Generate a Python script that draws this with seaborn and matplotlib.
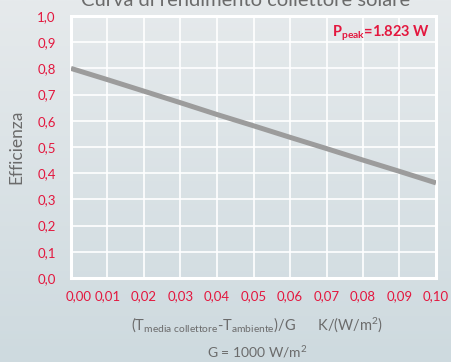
import numpy as np
import pandas as pd
import seaborn as sns
import matplotlib.pyplot as plt
from matplotlib.transforms import ScaledTranslation

# values
delta_t_over_g = [0.00, 0.01, 0.02, 0.03, 0.04, 0.05, 0.06, 0.07, 0.08, 0.09, 0.10]
efficienza = [0.800, 0.757, 0.713, 0.669, 0.624, 0.581, 0.537, 0.494, 0.450, 0.407, 0.363]
x_ticks = [0.00, 0.01, 0.02, 0.03, 0.04, 0.05, 0.06, 0.07, 0.08, 0.09, 0.10]
y_ticks = [0.0, 0.1, 0.2, 0.3, 0.4, 0.5, 0.6, 0.7, 0.8, 0.9, 1.0]
p_peak = "1.823 W"

RED = "#e3173e"
GRAY_TXT = "#6b6b6b"
LINE = "#9c9c9c"

sns.set_style("white")
plt.rcParams["font.family"] = ["Lato", "DejaVu Sans"]
plt.rcParams["mathtext.fontset"] = "custom"
plt.rcParams["mathtext.rm"] = "Lato"
plt.rcParams["mathtext.it"] = "Lato"
plt.rcParams["mathtext.bf"] = "Lato:bold"

df = pd.DataFrame({"x": delta_t_over_g, "eff": efficienza})

fig = plt.figure(figsize=(4.52, 3.62), dpi=100)

# background gradient
bg = fig.add_axes([0, 0, 1, 1], zorder=-10)
top = np.array([230, 234, 236]) / 255
bot = np.array([206, 218, 223]) / 255
t = np.linspace(0, 1, 256)[:, None]
grad = (top[None, :] * (1 - t) + bot[None, :] * t)[:, None, :]
bg.imshow(grad, aspect="auto", extent=[0, 1, 0, 1])
bg.set_axis_off()

ax = fig.add_axes([71 / 452, 1 - 278 / 362, 365 / 452, 262 / 362])
ax.set_facecolor("none")

sns.lineplot(data=df, x="x", y="eff", ax=ax, color=LINE, linewidth=3.6,
             solid_capstyle="butt", zorder=3)

ax.set_xlim(0, 0.10)
ax.set_ylim(0, 1.0)
ax.set_xticks(x_ticks)
ax.set_yticks(y_ticks)
ax.set_xticklabels([f"{v:.2f}".replace(".", ",") for v in x_ticks])
ax.set_yticklabels([f"{v:.1f}".replace(".", ",") for v in y_ticks])
ax.tick_params(axis="both", length=0, labelsize=9.5, labelcolor=RED)
ax.tick_params(axis="x", pad=9)
ax.tick_params(axis="y", pad=11)

lbl0 = ax.get_xticklabels()[0]
lbl0.set_horizontalalignment("left")
lbl0.set_transform(lbl0.get_transform() + ScaledTranslation(-5 / 100, 0, fig.dpi_scale_trans))

ax.grid(True, color="white", linewidth=1.2)
ax.set_axisbelow(True)
for s in ax.spines.values():
    s.set_color("white")
    s.set_linewidth(2.2)

ax.set_xlabel("")
ax.set_ylabel("Efficienza", color=GRAY_TXT, fontsize=12.5, labelpad=9)

ax.text(0.985, 0.935, r"P$_{\mathbf{peak}}$=" + p_peak, transform=ax.transAxes,
        ha="right", va="center", color=RED, fontsize=10.5, fontweight="bold")

fig.text(246 / 452, 1 - 1 / 362, "Curva di rendimento collettore solare",
         ha="center", va="center", color=GRAY_TXT, fontsize=14.5)
fig.text(257 / 452, 1 - 325 / 362,
         r"(T$_{\mathrm{media\ collettore}}$-T$_{\mathrm{ambiente}}$)/G      K/(W/m$^{2}$)",
         ha="center", va="center", color=GRAY_TXT, fontsize=10.5)
fig.text(257 / 452, 1 - 352 / 362, r"G = 1000 W/m$^{2}$",
         ha="center", va="center", color=GRAY_TXT, fontsize=10)

fig.savefig("out.png", dpi=100)
